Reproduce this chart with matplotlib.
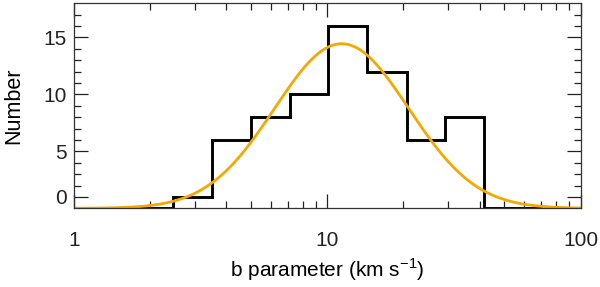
import numpy as np
import matplotlib

matplotlib.use("Agg")
import matplotlib.pyplot as plt
from matplotlib.ticker import FixedLocator, NullFormatter

plt.rcParams["font.family"] = ["Liberation Sans", "DejaVu Sans"]
plt.rcParams["mathtext.fontset"] = "custom"
plt.rcParams["mathtext.rm"] = "Liberation Sans"

# histogram of b parameters (bin edges in km/s, counts per bin)
bin_edges = [1.0, 2.47, 3.50, 5.00, 7.12, 10.1, 14.4, 20.6, 29.3, 41.7, 70.2]
counts = [0, 1, 6, 8, 10, 16, 12, 6, 8, 0]

# log-normal fit drawn over the histogram
fit_amplitude = 14.45
fit_center = 11.4   # km/s
fit_sigma_dex = 0.265

y_tick_pos = [1, 5, 10, 15]
y_tick_labels = ["0", "5", "10", "15"]
x_tick_pos = [1, 10, 100]
x_tick_labels = ["1", "10", "100"]

ORANGE = "#f4a800"

fig = plt.figure(figsize=(6.0, 2.87), dpi=100)
ax = fig.add_axes([0.1233, 0.2742, 0.8442, 0.7143])

ax.stairs(counts, bin_edges, color="black", linewidth=2.1, baseline=None)

xs = np.logspace(0, 2, 400)
fit = fit_amplitude * np.exp(-(np.log10(xs) - np.log10(fit_center)) ** 2 / (2 * fit_sigma_dex ** 2))
ax.plot(xs, fit, color=ORANGE, linewidth=2.0)

ax.set_xscale("log")
ax.set_xlim(1, 100)
ax.set_ylim(0, 18)

ax.xaxis.set_major_locator(FixedLocator(x_tick_pos))
ax.set_xticklabels(x_tick_labels)
ax.xaxis.set_minor_locator(FixedLocator([2, 3, 4, 5, 6, 7, 8, 9, 20, 30, 40, 50, 60, 70, 80, 90]))
ax.xaxis.set_minor_formatter(NullFormatter())
ax.set_yticks(y_tick_pos)
ax.set_yticklabels(y_tick_labels)
ax.yaxis.set_minor_locator(FixedLocator(range(1, 18)))

ax.tick_params(which="both", direction="in", top=True, right=True, labelsize=15, colors="#222222")
ax.tick_params(which="major", length=10, width=0.9)
ax.tick_params(which="minor", length=5, width=0.9)
ax.tick_params(axis="x", which="major", pad=16)
ax.tick_params(axis="y", which="major", pad=5)
for s in ax.spines.values():
    s.set_linewidth(0.9)
    s.set_color("#333333")

ax.set_xlabel("b parameter (km s$^{\\mathrm{-1}}$)", fontsize=15, labelpad=5)
ax.set_ylabel("Number", fontsize=15.5, labelpad=14)

fig.savefig("out.png", dpi=100)
